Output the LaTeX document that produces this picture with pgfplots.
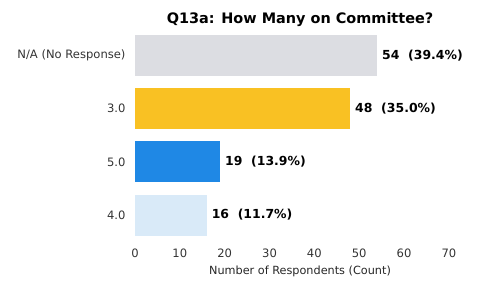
\documentclass[border=0pt]{standalone}
\usepackage{pgfplots}
\pgfplotsset{compat=1.18}
\usepackage{fontspec}
\setmainfont{DejaVu Sans}
\definecolor{cgray}{RGB}{220,221,226}
\definecolor{cyellow}{RGB}{249,193,35}
\definecolor{cblue}{RGB}{31,136,229}
\definecolor{cpale}{RGB}{217,234,248}
\begin{document}
\begin{tikzpicture}
\begin{axis}[
  name=ax,
  scale only axis,
  width=330bp, height=213bp,
  xbar, bar shift=0pt, bar width=0.77,
  xmin=0, xmax=73.6,
  ymin=-0.5, ymax=3.5,
  y dir=reverse,
  ytick={0,1,2,3},
  yticklabels={N/A (No Response),3.0,5.0,4.0},
  xtick={0,10,20,30,40,50,60,70},
  axis line style={draw=none},
  tick style={draw=none},
  major tick length=0pt,
  /pgf/number format/assume math mode=true,
  ticklabel style={font=\fontsize{11.6}{13}\selectfont, text=black!80},
  yticklabel style={xshift=-6bp},
  xticklabel style={yshift=-4bp},
  xlabel={Number of Respondents (Count)},
  xlabel style={font=\fontsize{11.3}{13}\selectfont, yshift=-1bp, text=black!85},
  title={Q13a: How Many on Committee?},
  title style={font=\bfseries\fontsize{14.5}{17}\selectfont, yshift=-7bp},
  nodes near coords,
  point meta=explicit symbolic,
  nodes near coords align=horizontal,
  every node near coord/.append style={font=\bfseries\fontsize{12.5}{14}\selectfont, anchor=west, xshift=1.5bp},
  clip=false,
]
\addplot[draw=none, fill=cgray] coordinates {(54,0) [54\ \ (39.4\%)]};
\addplot[draw=none, fill=cyellow] coordinates {(48,1) [48\ \ (35.0\%)]};
\addplot[draw=none, fill=cblue] coordinates {(19,2) [19\ \ (13.9\%)]};
\addplot[draw=none, fill=cpale] coordinates {(16,3) [16\ \ (11.7\%)]};
\end{axis}
\pgfresetboundingbox
\path[use as bounding box] (ax.south west) ++(-135bp,-40.3bp) rectangle ++(477bp,282bp);
\end{tikzpicture}
\end{document}
